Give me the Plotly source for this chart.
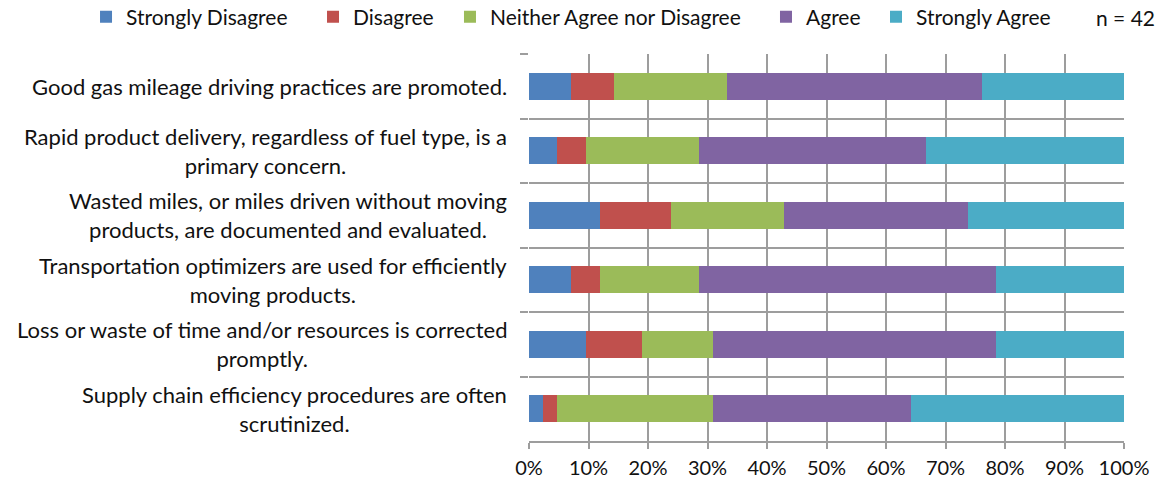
import plotly.graph_objects as go

# Survey statements (top to bottom) and response shares in percent (n = 42)
statements = [
    "Good gas mileage driving practices are promoted.",
    "Rapid product delivery, regardless of fuel type, is a<br>primary concern.",
    "Wasted miles, or miles driven without moving<br>products, are documented and evaluated.",
    "Transportation optimizers are used for efficiently<br>moving products.",
    "Loss or waste of time and/or resources is corrected<br>promptly.",
    "Supply chain efficiency procedures are often<br>scrutinized.",
]
strongly_disagree = [7.14, 4.76, 11.90, 7.14, 9.52, 2.38]
disagree = [7.14, 4.76, 11.90, 4.76, 9.52, 2.38]
neither = [19.05, 19.05, 19.05, 16.67, 11.90, 26.19]
agree = [42.86, 38.10, 30.95, 50.00, 47.62, 33.33]
strongly_agree = [23.81, 33.33, 26.19, 21.43, 21.43, 35.71]

series_names = ["Strongly Disagree", "Disagree", "Neither Agree nor Disagree",
                "Agree", "Strongly Agree"]
series_values = [strongly_disagree, disagree, neither, agree, strongly_agree]
series_colors = ["#4F81BD", "#C0504D", "#9BBB59", "#8064A2", "#4BACC6"]

x_ticks = [0, 10, 20, 30, 40, 50, 60, 70, 80, 90, 100]
x_tick_labels = ["0%", "10%", "20%", "30%", "40%", "50%", "60%", "70%",
                 "80%", "90%", "100%"]
sample_note = "n = 42"

FONT = "Lato"
TEXT = "#111111"
GRID = "#9d9d9d"

# Left edge (paper units) of each legend entry along the top row
legend_x = [-0.7445, -0.3630, -0.1328, 0.3983, 0.5832]
LEGEND_Y = 1.0956

fig = go.Figure()
legend_layout = {}
for i, (name, vals, color) in enumerate(zip(series_names, series_values, series_colors)):
    key = "legend" if i == 0 else f"legend{i + 1}"
    fig.add_trace(go.Bar(
        y=statements, x=vals, name=name, orientation="h",
        marker=dict(color=color, line=dict(width=0)),
        legend=key,
    ))
    legend_layout[key] = dict(
        orientation="h", xref="paper", yref="paper",
        x=legend_x[i], y=LEGEND_Y, xanchor="left", yanchor="middle",
        font=dict(family=FONT, size=21, color=TEXT),
        bgcolor="rgba(0,0,0,0)", borderwidth=0,
    )

# Category labels: multi-line text centred line by line, right edge near the axis
for s in statements:
    fig.add_annotation(
        x=0, y=s, xref="paper", yref="y", text=s, showarrow=False,
        xanchor="right", yanchor="middle", align="center", xshift=-20,
        font=dict(family=FONT, size=22, color=TEXT),
    )

fig.add_annotation(
    x=1.0555, y=LEGEND_Y, xref="paper", yref="paper", text=sample_note,
    showarrow=False, xanchor="right", yanchor="middle",
    font=dict(family=FONT, size=21, color=TEXT),
)

fig.update_layout(
    width=1167, height=482,
    margin=dict(l=529, r=43, t=54, b=41, autoexpand=False),
    barmode="stack", bargap=0.58,
    paper_bgcolor="white", plot_bgcolor="white",
    font=dict(family=FONT, size=20, color=TEXT),
    showlegend=True,
    xaxis=dict(
        range=[0, 100], tickmode="array", tickvals=x_ticks, ticktext=x_tick_labels,
        showgrid=True, gridcolor=GRID, gridwidth=1.5,
        zeroline=False, showline=True, linecolor=GRID, linewidth=1.5,
        ticks="outside", ticklen=6, tickcolor=GRID, tickwidth=1.5,
        ticklabelstandoff=2,
        tickfont=dict(family=FONT, size=20, color=TEXT),
        fixedrange=True,
    ),
    yaxis=dict(
        autorange="reversed", type="category", tickson="boundaries",
        showticklabels=False, showgrid=True, gridcolor=GRID, gridwidth=1.5,
        ticks="outside", ticklen=8, tickcolor=GRID, tickwidth=1.5,
        showline=False, zeroline=False, fixedrange=True,
    ),
    **legend_layout,
)

fig.write_html("out.html")
